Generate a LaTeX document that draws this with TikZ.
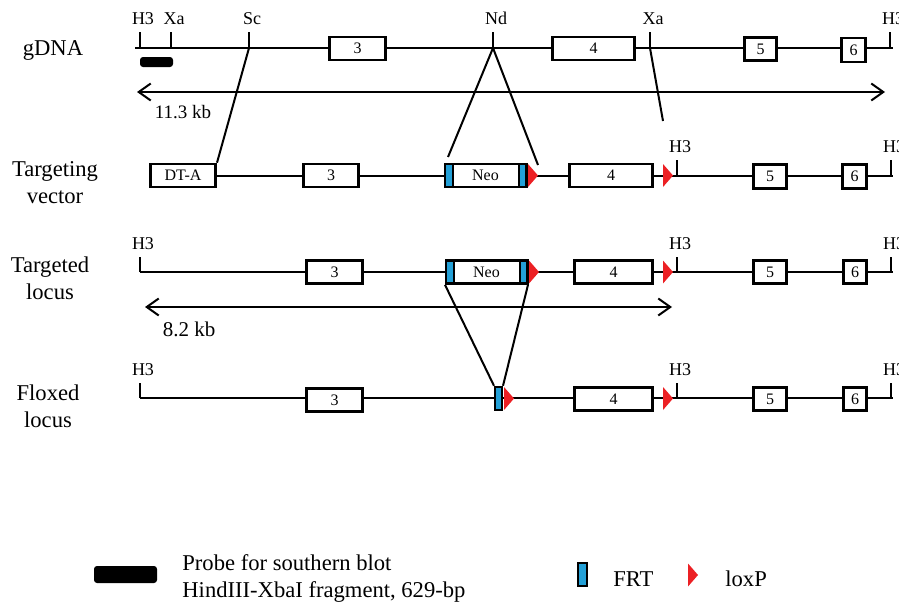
\documentclass[tikz,border=0pt]{standalone}
\usepackage{fontspec}
\setmainfont{Liberation Serif}
\usetikzlibrary{
  arrows.meta,
  positioning,
}
\definecolor{frtblue}{RGB}{35,160,215}
\definecolor{loxred}{RGB}{236,32,36}
\tikzstyle{dna} = [line width=1pt]
\tikzstyle{exon} = [
  rectangle,
  draw,
  line width=1.3pt,
  fill=white,
  inner sep=0pt,
  minimum height=11.5pt,
  font=\fontsize{8}{9}\selectfont,
]
\tikzstyle{frt} = [
  rectangle,
  draw,
  line width=1.2pt,
  fill=frtblue,
  inner sep=0pt,
  minimum width=3.8pt,
  minimum height=11.5pt,
]
\tikzstyle{probe} = [rectangle, fill=black, rounded corners=1.5pt, inner sep=0pt]
\tikzstyle{site} = [above=2pt, xshift=1.5pt, inner sep=1pt, font=\fontsize{9}{10}\selectfont]
\tikzstyle{rowname} = [align=center, inner sep=1pt, font=\fontsize{11.3}{13.5}\selectfont]
\tikzstyle{legend} = [align=left, inner sep=1pt, font=\fontsize{11.3}{13.5}\selectfont]
\tikzstyle{kb} = [inner sep=1pt, font=\fontsize{9.5}{10}\selectfont]
\tikzstyle{dim} = [
  {Straight Barb[length=6pt,width=8.5pt]}-{Straight Barb[length=6pt,width=8.5pt]},
  line width=1pt,
]
\tikzset{loxp/.pic={\fill[loxred] (0,-5.75pt) -- (5pt,0) -- (0,5.75pt) -- cycle;}}

\begin{document}
\begin{tikzpicture}[x=0.5pt, y=-0.5pt]
  \useasboundingbox (0,0) rectangle (899,605);

  % gDNA
  \node[rowname] (gName) at (53,50) {gDNA};
  \coordinate (gStart) at (135,48);
  \coordinate (gEnd) at (893,48);
  \coordinate (gH3a) at (140,48);
  \coordinate (gXa) at (171,48);
  \coordinate (gSc) at (249,48);
  \coordinate (gNd) at (493,48);
  \coordinate (gXb) at (650,48);
  \coordinate (gH3b) at (890,48);
  \draw[dna] (gStart) -- (gEnd);
  \foreach \p/\s in {gH3a/H3, gXa/Xa, gSc/Sc, gNd/Nd, gXb/Xa, gH3b/H3}
    \draw[dna] (\p) -- ++(0,-16) node[site] {\s};
  \node[exon, minimum width=28.2pt] (g3) at (357.5,48.5) {3};
  \node[exon, minimum width=41.2pt] (g4) at (593.5,48.5) {4};
  \node[exon, minimum width=16.2pt] (g5) at (760.5,49) {5};
  \node[exon, minimum width=12.2pt, minimum height=12pt] (g6) at (853.5,50) {6};
  \node[probe, minimum width=16.5pt, minimum height=5pt] (gProbe) at (156.5,62) {};
  \coordinate (gKbL) at (137,92);
  \coordinate (gKbR) at (885,92);
  \draw[dim] (gKbL) -- (gKbR);
  \node[kb] (gKb) at (183,112) {11.3 kb};

  % targeting vector
  \node[rowname] (vName) at (55,183) {Targeting\\vector};
  \node[exon, minimum width=32.7pt] (vDTA) at (183,175.5) {\raisebox{-1.5pt}{DT-A}};
  \coordinate (vEnd) at (893,175.5);
  \coordinate (vH3a) at (677,175.5);
  \coordinate (vH3b) at (891,175.5);
  \draw[dna] (vDTA.east) -- (vEnd);
  \foreach \p in {vH3a, vH3b}
    \draw[dna] (\p) -- ++(0,-16) node[site] {H3};
  \node[exon, minimum width=27.7pt] (v3) at (331,175.5) {3};
  \node[exon, minimum width=40.2pt] (vNeo) at (485.5,175.5) {Neo};
  \node[frt] (vFRTa) at (449,175.5) {};
  \node[frt] (vFRTb) at (522.5,175.5) {};
  \pic at (528,175.5) {loxp};
  \node[exon, minimum width=41.7pt] (v4) at (611,175.5) {4};
  \pic at (663,175.5) {loxp};
  \node[exon, minimum width=16.7pt, minimum height=12.2pt] (v5) at (770,176.5) {5};
  \node[exon, minimum width=12.2pt, minimum height=12.2pt] (v6) at (854.5,176.5) {6};
  \coordinate (vNdL) at (448,157);
  \coordinate (vNdR) at (538,165);
  \coordinate (vXa) at (663,121);
  \draw[dna] (gSc) -- (vDTA.north east);
  \draw[dna] (gNd) -- (vNdL);
  \draw[dna] (gNd) -- (vNdR);
  \draw[dna] (gXb) -- (vXa);

  % targeted locus
  \node[rowname] (tName) at (50,278) {Targeted\\locus};
  \coordinate (tH3a) at (140,272);
  \coordinate (tH3b) at (677,272);
  \coordinate (tH3c) at (891,272);
  \coordinate (tEnd) at (893,272);
  \draw[dna] (tH3a) -- (tEnd);
  \foreach \p in {tH3a, tH3b, tH3c}
    \draw[dna] (\p) -- ++(0,-15) node[site] {H3};
  \node[exon, minimum width=28.2pt] (t3) at (334.5,272) {3};
  \node[exon, minimum width=40.2pt] (tNeo) at (486.5,272) {Neo};
  \node[frt] (tFRTa) at (450,272) {};
  \node[frt] (tFRTb) at (523.5,272) {};
  \pic at (529,272) {loxp};
  \node[exon, minimum width=39.2pt] (t4) at (613.5,272) {4};
  \pic at (663,272) {loxp};
  \node[exon, minimum width=16.7pt] (t5) at (770,272) {5};
  \node[exon, minimum width=11.7pt] (t6) at (855,272) {6};
  \coordinate (tKbL) at (145,307);
  \coordinate (tKbR) at (672,307);
  \draw[dim] (tKbL) -- (tKbR);
  \node[kb, font=\fontsize{10.5}{11}\selectfont] (tKb) at (189,329) {8.2 kb};

  % floxed locus
  \node[rowname] (fName) at (48,406) {Floxed\\locus};
  \coordinate (fH3a) at (140,398);
  \coordinate (fH3b) at (677,398);
  \coordinate (fH3c) at (891,398);
  \coordinate (fEnd) at (893,398);
  \draw[dna] (fH3a) -- (fEnd);
  \foreach \p in {fH3a, fH3b, fH3c}
    \draw[dna] (\p) -- ++(0,-15) node[site] {H3};
  \node[exon, minimum width=28.2pt] (f3) at (334.5,400) {3};
  \node[frt, minimum width=3.3pt] (fFRT) at (498.5,398.5) {};
  \pic at (504,398.5) {loxp};
  \node[exon, minimum width=39.2pt] (f4) at (613.5,399) {4};
  \pic at (663,398.5) {loxp};
  \node[exon, minimum width=16.7pt] (f5) at (770,399) {5};
  \node[exon, minimum width=11.7pt] (f6) at (855,399) {6};
  \draw[dna] (tNeo.south west) -- (fFRT.north west);
  \draw[dna] (tNeo.south east) -- (fFRT.north east);

  % legend
  \node[probe, minimum width=31.5pt, minimum height=8.5pt] (kProbe) at (125.5,574.5) {};
  \node[legend, anchor=west] (kProbeText) at (180,578) {Probe for southern blot\\HindIII-XbaI fragment, 629-bp};
  \node[frt, minimum width=4.3pt, minimum height=11.3pt] (kFRT) at (582.5,574.5) {};
  \node[legend, anchor=west] (kFRTText) at (611,579) {FRT};
  \pic at (688,575) {loxp};
  \node[legend, anchor=west] (kLoxText) at (723,579) {loxP};
\end{tikzpicture}
\end{document}
